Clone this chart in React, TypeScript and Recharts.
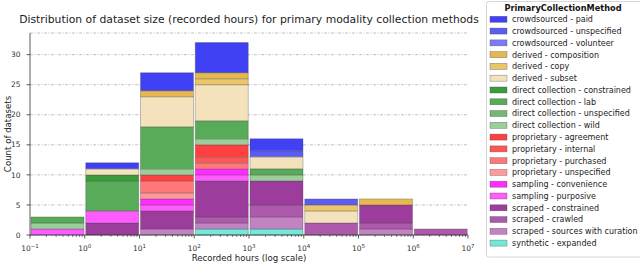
import React from "react";
import { BarChart, Bar, XAxis, YAxis, CartesianGrid } from "recharts";

// bins are decades of recorded hours, 10^-1 .. 10^7
const BINS = ["0.1-1", "1-10", "10-100", "100-1k", "1k-10k", "10k-100k", "100k-1M", "1M-10M"];
const BIN_LOW_EXP = [-1, 0, 1, 2, 3, 4, 5, 6];

const METHODS = [
  "crowdsourced - paid",
  "crowdsourced - unspecified",
  "crowdsourced - volunteer",
  "derived - composition",
  "derived - copy",
  "derived - subset",
  "direct collection - constrained",
  "direct collection - lab",
  "direct collection - unspecified",
  "direct collection - wild",
  "proprietary - agreement",
  "proprietary - internal",
  "proprietary - purchased",
  "proprietary - unspecified",
  "sampling - convenience",
  "sampling - purposive",
  "scraped - constrained",
  "scraped - crawled",
  "scraped - sources with curation",
  "synthetic - expanded",
];

const crowdPaid = [0, 1, 3, 5, 2, 0, 0, 0];
const crowdUnspecified = [0, 0, 0, 0, 1, 1, 0, 0];
const crowdVolunteer = [0, 0, 0, 0, 0, 0, 0, 0];
const derivedComposition = [0, 0, 1, 1, 0, 0, 1, 0];
const derivedCopy = [0, 0, 0, 1, 0, 1, 0, 0];
const derivedSubset = [0, 1, 5, 6, 2, 2, 0, 0];
const directConstrained = [0, 1, 0, 0, 0, 0, 0, 0];
const directLab = [1, 5, 7, 3, 1, 0, 0, 0];
const directUnspecified = [0, 0, 0, 0, 0, 0, 0, 0];
const directWild = [1, 0, 1, 1, 1, 0, 0, 0];
const propAgreement = [0, 0, 1, 2, 0, 0, 0, 0];
const propInternal = [0, 0, 0, 1, 0, 0, 0, 0];
const propPurchased = [0, 0, 2, 1, 0, 0, 0, 0];
const propUnspecified = [0, 0, 1, 0, 0, 0, 0, 0];
const samplingConvenience = [0, 0, 1, 1, 0, 0, 0, 0];
const samplingPurposive = [1, 2, 1, 1, 0, 0, 0, 0];
const scrapedConstrained = [0, 2, 3, 6, 4, 0, 3, 0];
const scrapedCrawled = [0, 0, 0, 1, 2, 2, 1, 1];
const scrapedCuration = [0, 0, 1, 1, 2, 0, 1, 0];
const syntheticExpanded = [0, 0, 0, 1, 1, 0, 0, 0];

const COUNTS = [
  crowdPaid, crowdUnspecified, crowdVolunteer,
  derivedComposition, derivedCopy, derivedSubset,
  directConstrained, directLab, directUnspecified, directWild,
  propAgreement, propInternal, propPurchased, propUnspecified,
  samplingConvenience, samplingPurposive,
  scrapedConstrained, scrapedCrawled, scrapedCuration,
  syntheticExpanded,
];

const Y_TICKS = [0, 5, 10, 15, 20, 25, 30];

const COLORS = [
  "#4040f5", "#5c5cf5", "#7b7bf5",
  "#e6b84e", "#eac56a", "#f3e2bc",
  "#3b9c3b", "#58ab58", "#73b873", "#9acf9a",
  "#ff4040", "#ff5757", "#ff7878", "#ff9a9a",
  "#ff2bff", "#ff5cff",
  "#9c3c9c", "#ad5aad", "#c383c3",
  "#72e8da",
];

const data = BINS.map((bin, i) => {
  const row: Record<string, any> = { bin, lowExp: BIN_LOW_EXP[i] };
  METHODS.forEach((_, j) => {
    row["s" + j] = COUNTS[j][i];
  });
  return row;
});

const W = 640;
const H = 264;
const MARGIN = { top: 33, right: 172, bottom: 0, left: 0 };
const Y_AXIS_W = 30;
const PLOT_W = W - MARGIN.right - MARGIN.left - Y_AXIS_W;
const BAND = PLOT_W / BINS.length; // one decade per band

const FONT = "'DejaVu Sans', sans-serif";
const INK = "#333";

function expLabel(e: number) {
  return e < 0 ? "\u2212" + Math.abs(e) : String(e);
}

function Major({ x, y, e }: { x: number; y: number; e: number }) {
  return (
    <g>
      <line x1={x} x2={x} y1={y} y2={y + 3.5} stroke={INK} strokeWidth={0.8} />
      <text x={x} y={y + 16} textAnchor="middle" fontSize={7.5} fill={INK} fontFamily={FONT}>
        10
        <tspan dy={-3.5} fontSize={5.5}>
          {expLabel(e)}
        </tspan>
      </text>
    </g>
  );
}

// each category band is one decade: draw lower-edge major tick plus minor ticks
function DecadeTick(props: any) {
  const { x, y, index } = props;
  const e = BIN_LOW_EXP[index];
  const left = x - BAND / 2;
  const minors = [2, 3, 4, 5, 6, 7, 8, 9].map((m) => left + Math.log10(m) * BAND);
  return (
    <g>
      <Major x={left} y={y} e={e} />
      {minors.map((mx, k) => (
        <line key={k} x1={mx} x2={mx} y1={y} y2={y + 2} stroke={INK} strokeWidth={0.6} />
      ))}
      {index === BINS.length - 1 && <Major x={left + BAND} y={y} e={e + 1} />}
    </g>
  );
}

export default function App() {
  const rowY = (i: number) => 19.3 + i * 11.78;
  return (
    <div style={{ position: "absolute", left: 0, top: 0, width: W, height: H, background: "#fff" }}>
      <BarChart width={W} height={H} data={data} margin={MARGIN} barCategoryGap={1}>
        <CartesianGrid
          vertical={false}
          stroke="#b0b0b0"
          strokeWidth={0.8}
          strokeDasharray="3 1.5 1 1.5"
        />
        <XAxis
          dataKey="bin"
          interval={0}
          tickSize={0}
          tickMargin={0}
          tickLine={false}
          height={29}
          stroke={INK}
          strokeWidth={0.8}
          tick={<DecadeTick />}
        />
        <YAxis
          width={Y_AXIS_W}
          domain={[0, 33.6]}
          ticks={Y_TICKS}
          interval={0}
          tickSize={3.5}
          tickMargin={6}
          stroke={INK}
          strokeWidth={0.8}
          tick={{ fontSize: 7.5, fill: INK, fontFamily: FONT }}
        />
        {METHODS.map((m, j) => j)
          .reverse()
          .map((j) => (
            <Bar
              key={j}
              dataKey={"s" + j}
              stackId="h"
              fill={COLORS[j]}
              stroke="rgba(70,70,70,0.55)"
              strokeWidth={0.6}
              isAnimationActive={false}
            />
          ))}
      </BarChart>
      <svg
        width={W}
        height={H}
        style={{ position: "absolute", left: 0, top: 0, pointerEvents: "none" }}
        fontFamily={FONT}
      >
        <text x={249} y={22.5} textAnchor="middle" fontSize={10.8} fill="#222">
          Distribution of dataset size (recorded hours) for primary modality collection methods
        </text>
        <text
          x={0}
          y={0}
          transform="translate(10.5,134) rotate(-90)"
          textAnchor="middle"
          fontSize={8.6}
          fill="#222"
        >
          Count of datasets
        </text>
        <text x={249} y={261} textAnchor="middle" fontSize={8.6} fill="#222">
          Recorded hours (log scale)
        </text>
        <rect x={486.5} y={1.5} width={170} height={255.5} rx={2} fill="rgba(255,255,255,0.85)" stroke="#cccccc" strokeWidth={0.8} />
        <text x={563} y={10.5} textAnchor="middle" fontSize={8.2} fontWeight="bold" fill="#111">
          PrimaryCollectionMethod
        </text>
        {METHODS.map((m, i) => (
          <g key={m}>
            <rect
              x={490}
              y={rowY(i) - 3}
              width={17}
              height={6}
              fill={COLORS[i]}
              stroke="rgba(70,70,70,0.55)"
              strokeWidth={0.6}
            />
            <text x={512} y={rowY(i) + 2.9} fontSize={8} fill="#222">
              {m}
            </text>
          </g>
        ))}
      </svg>
    </div>
  );
}
